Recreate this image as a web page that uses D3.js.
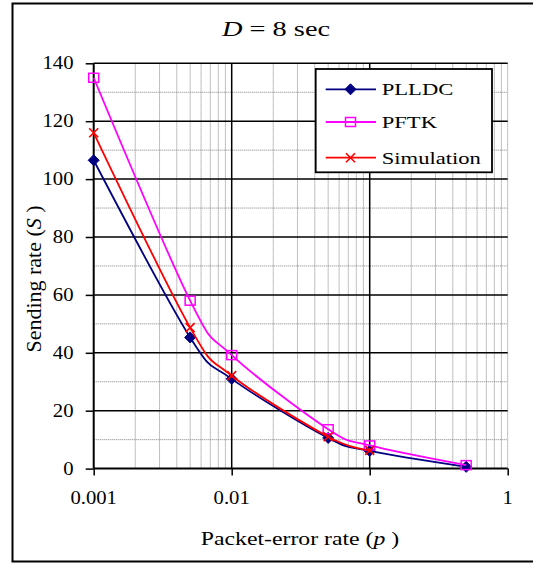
<!DOCTYPE html>
<html>
<head>
<meta charset="utf-8">
<script src="https://cdn.jsdelivr.net/npm/d3@7"></script>
<style>
  body { margin: 0; background: #fff; }
  text { font-family: "Liberation Serif", "Times New Roman", serif; fill: #000; }
</style>
</head>
<body>
<svg id="chart" width="533" height="563"></svg>
<script>
// Packet-error rates at which the models were evaluated
const errorRates = [0.001, 0.005, 0.01, 0.05, 0.1, 0.5];
// Sending rate S for each model
const plldcValues = [106.5, 45.3, 31.0, 10.6, 6.1, 0.6];
const pftkValues = [135.0, 58.0, 39.2, 13.6, 8.0, 1.2];
const simulationValues = [116.0, 48.7, 32.1, 11.0, 6.3];
const seriesNames = ["PLLDC", "PFTK", "Simulation"];
const xTickValues = [0.001, 0.01, 0.1, 1];
const xTickLabels = ["0.001", "0.01", "0.1", "1"];
const yTickValues = [0, 20, 40, 60, 80, 100, 120, 140];
const yMinorValues = [10, 30, 50, 70, 90, 110, 130];

const svg = d3.select("#chart");

// outer chart frame
svg.append("rect")
  .attr("x", 12.5).attr("y", 3.5)
  .attr("width", 540).attr("height", 558)
  .attr("fill", "#fff").attr("stroke", "#000").attr("stroke-width", 2);

const x = d3.scaleLog().domain([0.001, 1]).range([93.7, 507.7]);
const y = d3.scaleLinear().domain([0, 140]).range([468.6, 63.3]);

// horizontally widened text helper
function label(parent, tx, ty, str, size, sx, anchor) {
  return parent.append("text")
    .attr("transform", `translate(${tx},${ty}) scale(${sx},1)`)
    .attr("text-anchor", anchor)
    .attr("font-size", size)
    .text(str);
}

const grid = svg.append("g");

// minor vertical gridlines (2..9 within each decade, plus the right edge)
const minorX = [];
[0.001, 0.01, 0.1].forEach(d => { for (let k = 2; k <= 9; k++) minorX.push(d * k); });
minorX.push(1);
grid.selectAll("line.minor-x").data(minorX).join("line")
  .attr("x1", d => x(d)).attr("x2", d => x(d))
  .attr("y1", y(0)).attr("y2", y(140))
  .attr("stroke", "#808080").attr("stroke-width", 1)
  .attr("stroke-dasharray", "1,1");

// minor horizontal gridlines
grid.selectAll("line.minor-y").data(yMinorValues).join("line")
  .attr("x1", x(0.001)).attr("x2", x(1))
  .attr("y1", d => y(d)).attr("y2", d => y(d))
  .attr("stroke", "#808080").attr("stroke-width", 1)
  .attr("stroke-dasharray", "1,1");

// major vertical gridlines
grid.selectAll("line.major-x").data([0.01, 0.1]).join("line")
  .attr("x1", d => x(d)).attr("x2", d => x(d))
  .attr("y1", y(0)).attr("y2", y(140))
  .attr("stroke", "#000").attr("stroke-width", 1.5);

// major horizontal gridlines
grid.selectAll("line.major-y").data(yTickValues.filter(v => v > 0)).join("line")
  .attr("x1", x(0.001)).attr("x2", x(1))
  .attr("y1", d => y(d)).attr("y2", d => y(d))
  .attr("stroke", "#000").attr("stroke-width", 1.5);

// y axis
const yAxis = d3.axisLeft(y).tickValues(yTickValues).tickSize(8).tickFormat("");
const gy = svg.append("g").attr("transform", `translate(${x(0.001)},0)`).call(yAxis);
gy.select(".domain").attr("stroke", "#000").attr("stroke-width", 2).attr("d", `M0,${y(0)}V${y(140)}`);
gy.selectAll(".tick line").attr("stroke", "#000").attr("stroke-width", 1.5);
yTickValues.forEach(v => label(svg, 73.5, y(v) + 6, String(v), 18, 1.15, "end"));

// x axis
const xAxis = d3.axisBottom(x).tickValues(xTickValues).tickSize(7).tickFormat("");
const gx = svg.append("g").attr("transform", `translate(0,${y(0)})`).call(xAxis);
gx.select(".domain").attr("stroke", "#000").attr("stroke-width", 2).attr("d", `M${x(0.001)},0H${x(1)}`);
gx.selectAll(".tick line").attr("stroke", "#000").attr("stroke-width", 1.5);
xTickValues.forEach((v, i) => label(svg, x(v), 504, xTickLabels[i], 18, 1.15, "middle"));

// axis titles
const xt = svg.append("text")
  .attr("transform", "translate(300,545) scale(1.25,1)")
  .attr("text-anchor", "middle").attr("font-size", 19);
xt.append("tspan").text("Packet-error rate (");
xt.append("tspan").attr("font-style", "italic").text("p");
xt.append("tspan").text(" )");

const yt = svg.append("text")
  .attr("transform", "translate(41,279) rotate(-90)")
  .attr("text-anchor", "middle").attr("font-size", 22);
yt.append("tspan").text("Sending rate (");
yt.append("tspan").attr("font-style", "italic").text("S");
yt.append("tspan").text(" )");

// title
const title = svg.append("text")
  .attr("transform", "translate(276,36) scale(1.35,1)")
  .attr("text-anchor", "middle").attr("font-size", 21);
title.append("tspan").attr("font-style", "italic").text("D");
title.append("tspan").text(" = 8 sec");

// series
const colors = ["#000080", "#ff00ff", "#ff0000"];
const seriesValues = [plldcValues, pftkValues, simulationValues];
const line = d3.line()
  .x(d => x(d[0])).y(d => y(d[1]))
  .curve(d3.curveCardinal.tension(0));

function drawMarker(g, kind, cx, cy, color) {
  if (kind === 0) {
    g.append("path")
      .attr("d", `M${cx},${cy - 5.5}L${cx + 5.5},${cy}L${cx},${cy + 5.5}L${cx - 5.5},${cy}Z`)
      .attr("fill", color).attr("stroke", color).attr("stroke-width", 1);
  } else if (kind === 1) {
    g.append("rect")
      .attr("x", cx - 5).attr("y", cy - 4.5).attr("width", 10).attr("height", 9)
      .attr("fill", "none").attr("stroke", color).attr("stroke-width", 1.5);
  } else {
    g.append("path")
      .attr("d", `M${cx - 4.5},${cy - 4.5}L${cx + 4.5},${cy + 4.5}M${cx - 4.5},${cy + 4.5}L${cx + 4.5},${cy - 4.5}`)
      .attr("stroke", color).attr("stroke-width", 1.6).attr("fill", "none");
  }
}

seriesValues.forEach((vals, si) => {
  const pts = vals.map((v, i) => [errorRates[i], v]);
  const g = svg.append("g");
  g.append("path").attr("d", line(pts))
    .attr("fill", "none").attr("stroke", colors[si]).attr("stroke-width", 1.8);
  pts.forEach(p => drawMarker(g, si, x(p[0]), y(p[1]), colors[si]));
});

// legend
const legend = svg.append("g");
legend.append("rect")
  .attr("x", 315.7).attr("y", 69).attr("width", 176.3).attr("height", 103.3)
  .attr("fill", "#fff").attr("stroke", "#000").attr("stroke-width", 1.8);
const rowY = [89.3, 122, 157.7];
seriesNames.forEach((name, i) => {
  legend.append("line")
    .attr("x1", 325.7).attr("x2", 376).attr("y1", rowY[i]).attr("y2", rowY[i])
    .attr("stroke", colors[i]).attr("stroke-width", 1.8);
  drawMarker(legend, i, 350.5, rowY[i], colors[i]);
  label(legend, 381.7, rowY[i] + 6, name, 17, 1.33, "start");
});
</script>
</body>
</html>
